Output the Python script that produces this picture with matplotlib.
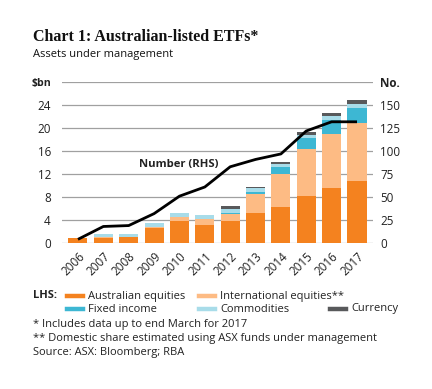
import matplotlib
matplotlib.use("Agg")
import matplotlib.pyplot as plt
from matplotlib.lines import Line2D
import numpy as np

years = ["2006", "2007", "2008", "2009", "2010", "2011", "2012", "2013", "2014", "2015", "2016", "2017"]
aus_equities = [0.8, 0.9, 1.0, 2.7, 3.8, 3.1, 3.8, 5.2, 6.3, 8.2, 9.5, 10.8]
intl_equities = [0.0, 0.1, 0.0, 0.1, 0.8, 1.0, 1.2, 3.3, 5.7, 8.1, 9.5, 10.1]
fixed_income = [0.0, 0.0, 0.0, 0.0, 0.0, 0.0, 0.3, 0.4, 1.2, 2.0, 2.4, 2.6]
commodities = [0.0, 0.6, 0.6, 0.7, 0.7, 0.8, 0.6, 0.6, 0.5, 0.6, 0.7, 0.8]
currency = [0.0, 0.0, 0.0, 0.0, 0.0, 0.0, 0.5, 0.3, 0.5, 0.5, 0.6, 0.6]
number_rhs = [4, 18, 19, 32, 51, 61, 83, 91, 97, 122, 132, 132]

series = [
    ("Australian equities", aus_equities, "#F4821F"),
    ("International equities**", intl_equities, "#FDBB84"),
    ("Fixed income", fixed_income, "#3DB7D3"),
    ("Commodities", commodities, "#A8DCE9"),
    ("Currency", currency, "#58595B"),
]

plt.rcParams['font.family'] = ['Open Sans', 'DejaVu Sans']

fig = plt.figure(figsize=(4.32, 3.89), dpi=100)
ax = fig.add_axes([0.1435, 0.3753, 0.7199, 0.4131])

x = np.arange(len(years))
bottom = np.zeros(len(years))
for name, vals, col in series:
    v = np.array(vals)
    ax.bar(x, v, width=0.75, bottom=bottom, color=col, edgecolor="none", zorder=2)
    bottom += v

ax.set_ylim(0, 28)
ax.set_xlim(-0.63, 11.63)
ax.set_yticks(np.arange(0, 29, 4))
ax.set_yticklabels([str(t) for t in range(0, 25, 4)] + ["$bn"])
ax.get_yticklabels()[-1].set_fontweight("bold")
ax.get_yticklabels()[-1].set_fontsize(7.6)
ax.grid(axis="y", color="#A0A0A0", linewidth=0.9, zorder=0)
ax.set_axisbelow(True)
for s in ax.spines.values():
    s.set_visible(False)
ax.tick_params(axis="x", length=0, labelsize=8.4, colors="#222222", pad=5)
ax.tick_params(axis="y", length=0, labelsize=8.4, colors="#222222", pad=8)
ax.get_yticklabels()[-1].set_fontsize(7.6)
ax.set_xticks(x)
ax.set_xticklabels(years, rotation=45, ha="right", rotation_mode="anchor")

ax2 = ax.twinx()
ax2.set_ylim(0, 175)
ax2.plot(x, number_rhs, color="black", linewidth=2.0, zorder=5, solid_capstyle="butt")
ax2.set_yticks(np.arange(0, 176, 25))
ax2.set_yticklabels([str(t) for t in range(0, 151, 25)] + ["No."])
ax2.get_yticklabels()[-1].set_fontweight("bold")
for s in ax2.spines.values():
    s.set_visible(False)
ax2.tick_params(axis="y", length=0, labelsize=8.4, colors="#222222", pad=5)

ax.text(3.98, 13.7, "Number (RHS)", fontsize=8.1, fontweight="bold", ha="center", va="center", color="#222222")

fig.text(33/432, 1-37/389, "Chart 1: Australian-listed ETFs*", fontsize=11.5, fontweight="bold",
         family=["Liberation Serif", "DejaVu Serif"], va="center", ha="left", color="#111111")
fig.text(33/432, 1-55/389, "Assets under management", fontsize=8.0, va="center", ha="left", color="#111111")

# legend
fig.text(33/432, 1-296/389, "LHS:", fontsize=8.0, fontweight="bold", va="center", ha="left", color="#222222")
leg_pos = [
    (67, 296), (199, 296), (67, 309), (199, 309), (330, 309)
]
for (name, vals, col), (px, py) in zip(series, leg_pos):
    yy = 1 - py/389
    fig.add_artist(Line2D([px/432, (px+16)/432], [yy, yy], color=col, linewidth=3.2, transform=fig.transFigure))
    fig.text((px+21)/432, yy, name, fontsize=8.0, va="center", ha="left", color="#222222")

notes = ["* Includes data up to end March for 2017",
         "** Domestic share estimated using ASX funds under management",
         "Source: ASX: Bloomberg; RBA"]
for i, n in enumerate(notes):
    fig.text(33/432, 1-(325+13.5*i)/389, n, fontsize=8.0, va="center", ha="left", color="#222222")

fig.savefig("out.png", dpi=100)
